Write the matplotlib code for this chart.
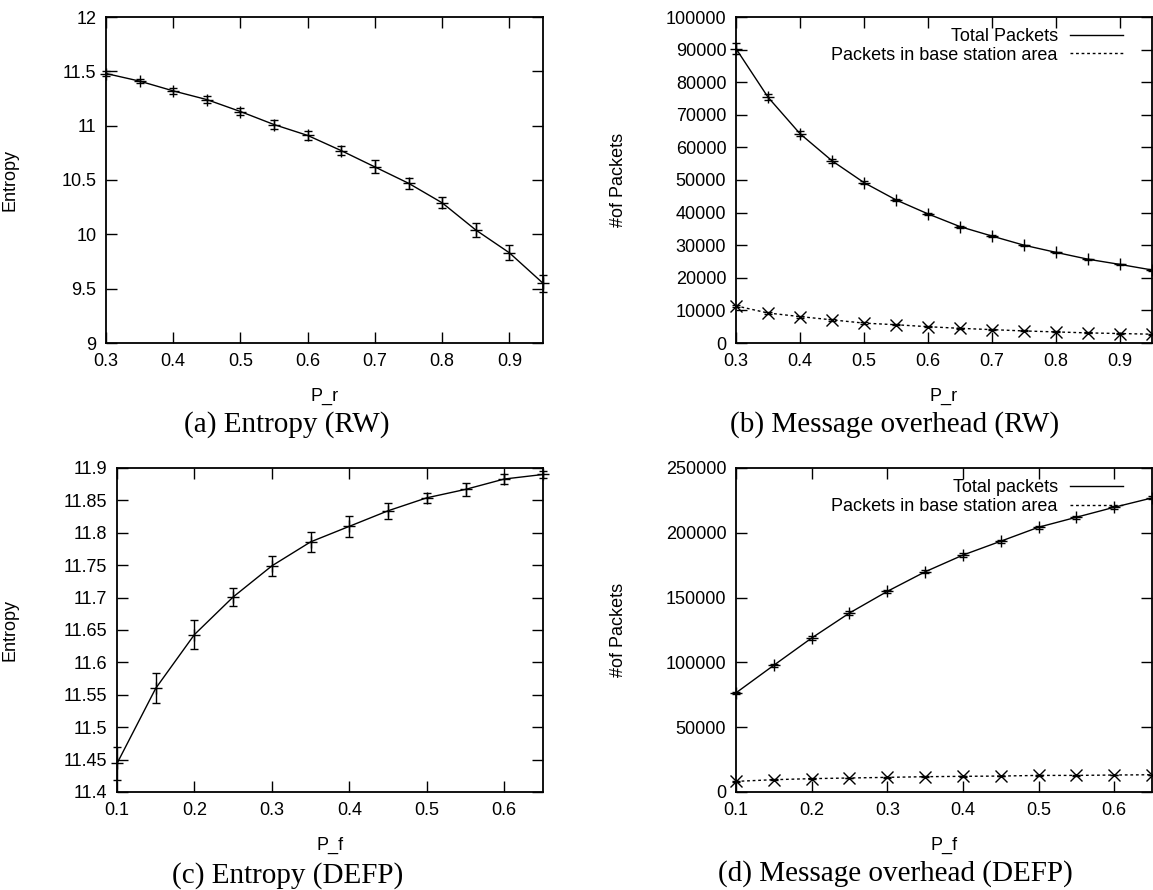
import matplotlib
matplotlib.use("Agg")
import matplotlib.pyplot as plt
from matplotlib.ticker import FormatStrFormatter, MultipleLocator

plt.rcParams['font.family'] = ['Liberation Sans', 'DejaVu Sans']

# --- DATA ---
pr = [0.30, 0.35, 0.40, 0.45, 0.50, 0.55, 0.60, 0.65, 0.70, 0.75, 0.80, 0.85, 0.90, 0.95]
entropy_rw = [11.48, 11.41, 11.32, 11.24, 11.13, 11.01, 10.91, 10.77, 10.62, 10.47, 10.29, 10.04, 9.83, 9.55]
entropy_rw_err = [0.02, 0.02, 0.03, 0.03, 0.03, 0.04, 0.04, 0.04, 0.06, 0.05, 0.05, 0.06, 0.07, 0.08]
total_rw = [90300, 75400, 64200, 55900, 49200, 43900, 39600, 35700, 32800, 30000, 27800, 25700, 24100, 22400]
total_rw_err = [1800, 1000, 700, 600, 500, 300, 300, 300, 200, 200, 200, 200, 200, 200]
base_rw = [11400, 9200, 8100, 7100, 6100, 5600, 5000, 4500, 4100, 3700, 3400, 3100, 2900, 2700]
base_rw_err = [400, 300, 300, 200, 200, 200, 200, 150, 150, 150, 150, 150, 150, 150]

pf = [0.10, 0.15, 0.20, 0.25, 0.30, 0.35, 0.40, 0.45, 0.50, 0.55, 0.60, 0.65]
entropy_defp = [11.444, 11.560, 11.643, 11.701, 11.749, 11.786, 11.810, 11.834, 11.854, 11.867, 11.883, 11.890]
entropy_defp_err = [0.025, 0.023, 0.023, 0.014, 0.015, 0.015, 0.016, 0.012, 0.008, 0.010, 0.008, 0.006]
total_defp = [76500, 97800, 118800, 138100, 154800, 169900, 182800, 193500, 204300, 212000, 219700, 226900]
total_defp_err = [800, 1200, 1300, 1300, 1300, 1300, 1500, 1300, 1300, 1200, 1200, 1200]
base_defp = [8200, 9500, 10300, 10800, 11300, 11800, 12100, 12300, 12800, 12800, 13100, 13300]
base_defp_err = [200, 200, 200, 200, 200, 200, 200, 200, 200, 200, 200, 200]

W, H = 1153, 890
fig = plt.figure(figsize=(W / 100, H / 100), dpi=100)


def make_axes(l, r, t, b):
    return fig.add_axes([l / W, 1 - b / H, (r - l) / W, (b - t) / H])


def style(ax, xlabel, ylabel, ylab_x):
    ax.tick_params(direction='in', length=8, width=1, top=True, right=True,
                   labelsize=13, pad=7)
    for s in ax.spines.values():
        s.set_linewidth(1.3)
    ax.set_xlabel(xlabel, fontsize=13)
    ax.set_ylabel(ylabel, fontsize=13)
    ax.xaxis.set_label_coords(0.5, -0.138)
    ax.yaxis.set_label_coords(ylab_x, 0.5)


def series(ax, x, y, err, marker, ls, label=None):
    ax.plot(x, y, color='black', lw=1, ls=ls, label=label, clip_on=False)
    ax.errorbar(x, y, yerr=err, fmt='none', ecolor='black', elinewidth=1,
                capsize=3, capthick=1, clip_on=False)
    ax.plot(x, y, ls='none', marker=marker, ms=8, mew=1, color='black', clip_on=False)


# (a) Entropy (RW)
ax = make_axes(106, 543, 17, 343)
series(ax, pr, entropy_rw, entropy_rw_err, '+', '-')
ax.set_xlim(0.3, 0.95)
ax.set_ylim(9, 12)
ax.xaxis.set_major_locator(MultipleLocator(0.1))
ax.yaxis.set_major_locator(MultipleLocator(0.5))
ax.yaxis.set_major_formatter(FormatStrFormatter('%g'))
ax.xaxis.set_major_formatter(FormatStrFormatter('%g'))
style(ax, 'P_r', 'Entropy', -0.201)

# (b) Message overhead (RW)
ax = make_axes(736, 1152, 17, 343)
series(ax, pr, total_rw, total_rw_err, '+', '-', 'Total Packets')
series(ax, pr, base_rw, base_rw_err, 'x', (0, (2, 2)), 'Packets in base station area')
ax.set_xlim(0.3, 0.95)
ax.set_ylim(0, 100000)
ax.xaxis.set_major_locator(MultipleLocator(0.1))
ax.yaxis.set_major_locator(MultipleLocator(10000))
ax.yaxis.set_major_formatter(FormatStrFormatter('%d'))
ax.xaxis.set_major_formatter(FormatStrFormatter('%g'))
style(ax, 'P_r', '#of Packets', -0.262)
ax.legend(loc='upper right', frameon=False, markerfirst=False, fontsize=13,
          handlelength=2.9, handletextpad=0.7, labelspacing=0.1,
          borderaxespad=0.3, bbox_to_anchor=(0.96, 1.005))

# (c) Entropy (DEFP)
ax = make_axes(117, 543, 468, 792)
series(ax, pf, entropy_defp, entropy_defp_err, '+', '-')
ax.set_xlim(0.1, 0.65)
ax.set_ylim(11.4, 11.9)
ax.xaxis.set_major_locator(MultipleLocator(0.1))
ax.yaxis.set_major_locator(MultipleLocator(0.05))
ax.yaxis.set_major_formatter(FormatStrFormatter('%g'))
ax.xaxis.set_major_formatter(FormatStrFormatter('%g'))
style(ax, 'P_f', 'Entropy', -0.232)

# (d) Message overhead (DEFP)
ax = make_axes(736, 1152, 468, 792)
series(ax, pf, total_defp, total_defp_err, '+', '-', 'Total packets')
series(ax, pf, base_defp, base_defp_err, 'x', (0, (2, 2)), 'Packets in base station area')
ax.set_xlim(0.1, 0.65)
ax.set_ylim(0, 250000)
ax.xaxis.set_major_locator(MultipleLocator(0.1))
ax.yaxis.set_major_locator(MultipleLocator(50000))
ax.yaxis.set_major_formatter(FormatStrFormatter('%d'))
ax.xaxis.set_major_formatter(FormatStrFormatter('%g'))
style(ax, 'P_f', '#of Packets', -0.262)
ax.legend(loc='upper right', frameon=False, markerfirst=False, fontsize=13,
          handlelength=2.9, handletextpad=0.7, labelspacing=0.1,
          borderaxespad=0.3, bbox_to_anchor=(0.96, 1.005))

# captions
cap = dict(ha='center', va='center', fontsize=21, family='Liberation Serif')
fig.text(287 / W, 1 - 425 / H, '(a) Entropy (RW)', **cap)
fig.text(895 / W, 1 - 425 / H, '(b) Message overhead (RW)', **cap)
fig.text(288 / W, 1 - 876 / H, '(c) Entropy (DEFP)', **cap)
fig.text(895 / W, 1 - 874 / H, '(d) Message overhead (DEFP)', **cap)

fig.savefig('out.png', dpi=100)
